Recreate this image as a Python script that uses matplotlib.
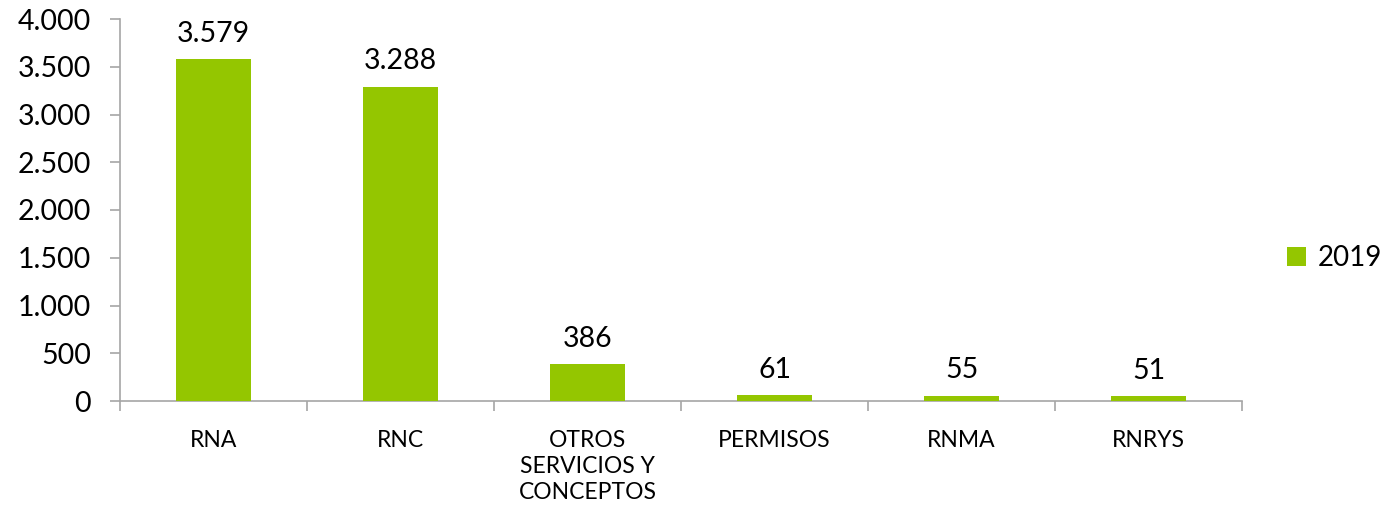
import matplotlib
matplotlib.use("Agg")
import matplotlib.pyplot as plt
import numpy as np
from matplotlib.ticker import FixedLocator, FuncFormatter

categories = ["RNA", "RNC", "OTROS\nSERVICIOS Y\nCONCEPTOS", "PERMISOS", "RNMA", "RNRYS"]
values_2019 = [3579, 3288, 386, 61, 55, 51]
series_name = "2019"
yticks = [0, 500, 1000, 1500, 2000, 2500, 3000, 3500, 4000]

plt.rcParams['font.family'] = ['Lato', 'DejaVu Sans']
color = "#94C600"
axis_color = "#A6A6A6"

fig = plt.figure(figsize=(13.83, 5.13), dpi=100)
ax = fig.add_axes([120/1383, 1-401/513, (1242-120)/1383, (401-19)/513])

x = np.arange(len(categories))
bars = ax.bar(x, values_2019, width=0.4, color=color, label=series_name, zorder=3)

def fmt(v):
    return f"{int(v):,}".replace(",", ".")

for xi, v in zip(x, values_2019):
    ax.annotate(fmt(v), (xi, v), xytext=(0, 9), textcoords="offset points",
                ha="center", va="bottom", fontsize=20.5, color="black")

ax.set_xlim(-0.5, len(categories) - 0.5)
ax.set_ylim(0, 4000)
ax.set_yticks(yticks)
ax.yaxis.set_major_formatter(FuncFormatter(lambda v, p: fmt(v)))
ax.tick_params(axis='y', labelsize=20.5, length=7, width=1.2, color=axis_color, pad=14, direction='out')

ax.set_xticks(x)
ax.set_xticklabels(categories, fontsize=16.5, linespacing=1.3)
ax.tick_params(axis='x', which='major', length=0, pad=21)
ax.xaxis.set_minor_locator(FixedLocator(np.arange(-0.5, len(categories), 1.0)))
ax.tick_params(axis='x', which='minor', length=7, width=1.2, color=axis_color, direction='out')

for lbl in ax.get_xticklabels():
    lbl.set_verticalalignment('top')

ax.spines['top'].set_visible(False)
ax.spines['right'].set_visible(False)
ax.spines['left'].set_color(axis_color)
ax.spines['bottom'].set_color(axis_color)
ax.spines['left'].set_linewidth(1.2)
ax.spines['bottom'].set_linewidth(1.2)

fig.legend(handles=[bars], labels=[series_name], loc='center left',
           bbox_to_anchor=(1287/1383, 1-258/513), frameon=False, fontsize=20,
           handlelength=0.7, handleheight=0.7, handletextpad=0.4,
           borderaxespad=0, borderpad=0)

fig.savefig("out.png", dpi=100)
